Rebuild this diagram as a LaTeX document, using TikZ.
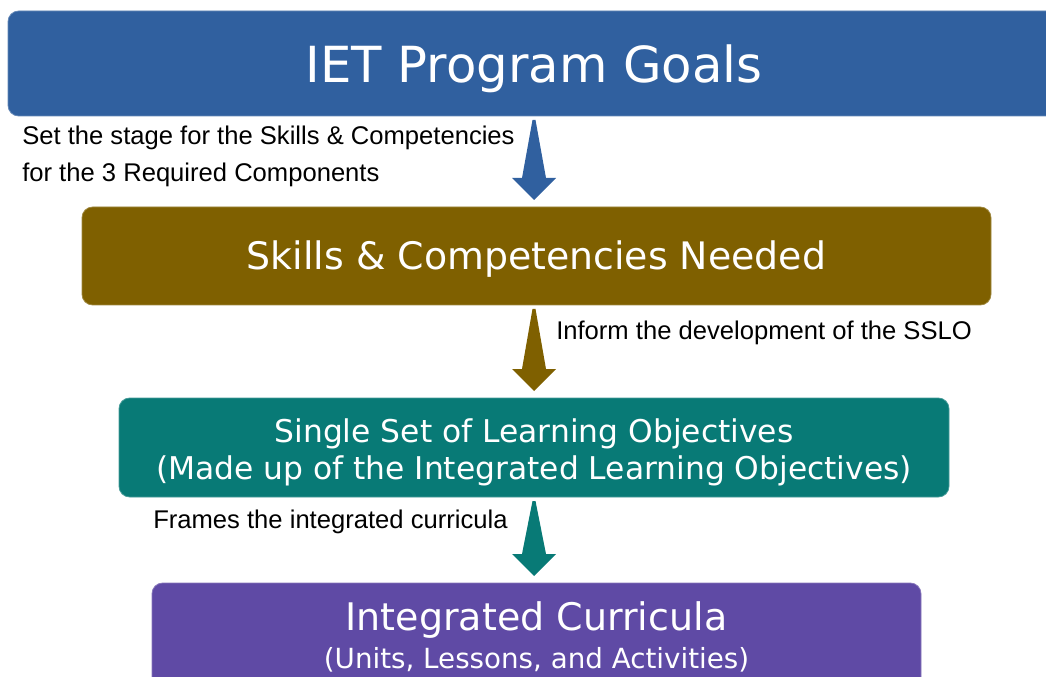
\documentclass[tikz,border=0pt]{standalone}
\usepackage{fontspec}
\setmainfont{Liberation Sans}
\newfontfamily\boxfont{DejaVu Sans}
\usetikzlibrary{calc}
\definecolor{GoalBlue}{HTML}{30609F}
\definecolor{SkillGold}{HTML}{7F6000}
\definecolor{ObjTeal}{HTML}{087A76}
\definecolor{CurrPurple}{HTML}{5F4AA5}
\tikzset{
  stagebox/.style={draw=#1!75!white, line width=0.6pt, fill=#1, rounded corners=8pt,
    inner sep=0pt, outer sep=0pt},
  stagetext/.style={text=white, align=center, inner sep=0pt},
  steplabel/.style={font=\fontsize{19.2}{27.75}\selectfont, align=left, inner sep=0pt},
}
% tapered down arrow on the spine, from box #1 to box #2
\newcommand{\flowarrow}[3]{%
  \fill[#3] ($(spine |- #1.south)+(-1.5,4)$) -- ($(spine |- #1.south)+(1.5,4)$)
    -- ($(spine |- #2.north)+(12,-29)$) -- ($(spine |- #2.north)+(22,-29)$)
    -- ($(spine |- #2.north)+(0,-7)$) -- ($(spine |- #2.north)+(-22,-29)$)
    -- ($(spine |- #2.north)+(-12,-29)$) -- cycle;}

\begin{document}
\begin{tikzpicture}[x=0.75pt, y=-0.75pt]
  \clip (0,0) rectangle (1046,677);
  \coordinate (spine) at (534,0);

  % boxes
  \node[stagebox=GoalBlue, minimum width=789pt, minimum height=78.75pt] (goals) at (534,63.5) {};
  \node[stagebox=SkillGold, minimum width=681.75pt, minimum height=73.5pt] (skills) at (536.5,256) {};
  \node[stagebox=ObjTeal, minimum width=622.5pt, minimum height=74.25pt] (sslo) at (534,447.5) {};
  \node[stagebox=CurrPurple, minimum width=576.75pt, minimum height=87.75pt] (curric) at (536.5,641.5) {};

  % box texts
  \node[stagetext, font=\boxfont\fontsize{37.3}{44}\selectfont] (goalstxt)
    at ($(goals.center)+(0,5)$) {IET Program Goals};
  \node[stagetext, font=\boxfont\fontsize{28.4}{34}\selectfont] (skillstxt)
    at ($(skills.center)+(0,3)$) {Skills \& Competencies Needed};
  \node[stagetext, font=\boxfont\fontsize{23.5}{27.75}\selectfont] (sslotxt)
    at ($(sslo.center)+(0,5)$)
    {Single Set of Learning Objectives\\(Made up of the Integrated Learning Objectives)};
  \node[stagetext, font=\boxfont\fontsize{28.5}{28.5}\selectfont] (currictxt)
    at ($(curric.center)+(0,-5)$)
    {Integrated Curricula\\{\fontsize{20.8}{24}\selectfont (Units, Lessons, and Activities)}};

  \flowarrow{goals}{skills}{GoalBlue}
  \flowarrow{skills}{sslo}{SkillGold}
  \flowarrow{sslo}{curric}{ObjTeal}

  \node[steplabel, anchor=west] (setlbl) at (22,156)
    {Set the stage for the Skills \& Competencies\\for the 3 Required Components};
  \node[steplabel, anchor=west] (informlbl) at (556,333) {Inform the development of the SSLO};
  \node[steplabel, anchor=west] (frameslbl) at (153,522) {Frames the integrated curricula};
\end{tikzpicture}
\end{document}
